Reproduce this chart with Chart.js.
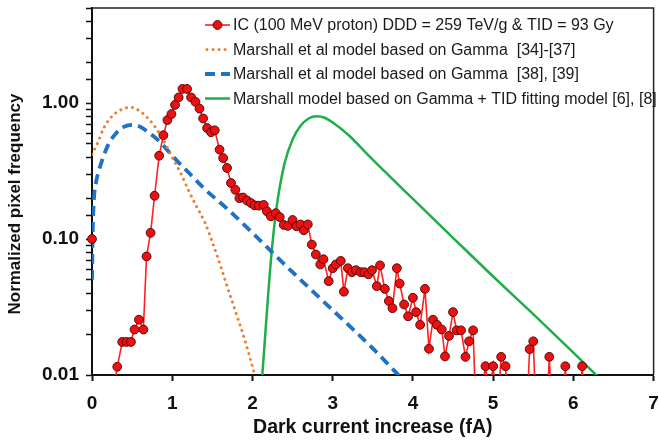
<!DOCTYPE html>
<html>
<head>
<meta charset="utf-8">
<script src="https://cdn.jsdelivr.net/npm/chart.js@4.4.1/dist/chart.umd.min.js"></script>
<style>
    html, body { margin: 0; padding: 0; background: #fff; }
</style>
</head>
<body>
<canvas id="myChart" width="659" height="441"></canvas>
<script>
// measured IC data (100 MeV proton)
const icX = [0, 0.15, 0.26, 0.315, 0.377, 0.431, 0.485, 0.53, 0.585, 0.64, 0.68, 0.73, 0.78, 0.837, 0.89, 0.94, 0.99, 1.035, 1.08, 1.128, 1.185, 1.235, 1.29, 1.34, 1.385, 1.435, 1.484, 1.53, 1.59, 1.635, 1.683, 1.733, 1.787, 1.837, 1.882, 1.932, 1.98, 2.026, 2.08, 2.14, 2.18, 2.23, 2.29, 2.34, 2.39, 2.44, 2.5, 2.55, 2.6, 2.64, 2.69, 2.74, 2.79, 2.845, 2.885, 2.95, 3.0, 3.04, 3.1, 3.14, 3.19, 3.24, 3.29, 3.35, 3.395, 3.445, 3.49, 3.55, 3.59, 3.65, 3.7, 3.745, 3.8, 3.835, 3.89, 3.94, 4.0, 4.04, 4.09, 4.15, 4.2, 4.25, 4.3, 4.36, 4.4, 4.45, 4.5, 4.545, 4.6, 4.655, 4.7, 4.75, 4.8, 4.85, 4.905, 4.95, 5.0, 5.05, 5.1, 5.155, 5.2, 5.3, 5.4, 5.455, 5.5, 5.55, 5.65, 5.7, 5.75, 5.85, 5.9, 5.95, 6.05, 6.11, 6.16]
const icY = [0.10, null, 0.007, 0.0115, 0.0175, 0.0175, 0.0175, 0.0216, 0.0255, 0.0216, 0.0745, 0.111, 0.208, 0.41, 0.58, 0.75, 0.83, 0.97, 1.1, 1.27, 1.27, 1.1, 1.02, 0.91, 0.77, 0.655, 0.61, 0.63, 0.454, 0.394, 0.333, 0.258, 0.23, 0.2, 0.202, 0.192, 0.184, 0.177, 0.176, 0.178, 0.16, 0.147, 0.155, 0.145, 0.127, 0.125, 0.138, 0.124, 0.128, 0.116, 0.128, 0.091, 0.077, 0.065, 0.071, 0.049, 0.061, 0.065, 0.069, 0.041, 0.061, 0.057, 0.059, 0.057, 0.057, 0.055, 0.059, 0.045, 0.064, 0.043, 0.035, 0.031, 0.061, 0.047, 0.033, 0.027, 0.037, 0.029, 0.0234, 0.043, 0.0156, 0.0255, 0.0234, 0.0216, 0.0137, 0.0194, 0.029, 0.0213, 0.0213, 0.0136, 0.0177, 0.0213, 0.003, 0.007, 0.0116, 0.007, 0.0116, 0.005, 0.0136, 0.0116, 0.003, 0.002, 0.003, 0.0155, 0.0177, 0.003, 0.003, 0.0136, 0.003, 0.003, 0.0116, 0.003, 0.003, 0.0116, 0.003]

// Marshall et al, Gamma [34]-[37]
const orangeX = [0, 0.07, 0.15, 0.25, 0.36, 0.48, 0.6, 0.7, 0.8, 0.9, 1.0, 1.1, 1.2, 1.3, 1.4, 1.5, 1.6, 1.7, 1.8, 1.9, 2.0, 2.05]
const orangeY = [0.42, 0.51, 0.66, 0.8, 0.89, 0.93, 0.87, 0.77, 0.65, 0.52, 0.40, 0.31, 0.23, 0.175, 0.135, 0.095, 0.064, 0.042, 0.028, 0.0185, 0.0115, 0.009]

// Marshall et al, Gamma [38], [39]
const blueX = [0, 0.01, 0.025, 0.05, 0.1, 0.2, 0.3, 0.4, 0.5, 0.6, 0.7, 0.8, 0.9, 1.0, 1.2, 1.4, 1.7, 2.0, 2.5, 3.0, 3.5, 3.82, 3.9]
const blueY = [0.05, 0.12, 0.2, 0.26, 0.34, 0.49, 0.6, 0.67, 0.69, 0.67, 0.61, 0.55, 0.48, 0.41, 0.31, 0.235, 0.164, 0.111, 0.057, 0.030, 0.0157, 0.01, 0.009]

// Marshall + TID fitting model
const greenX = [2.12, 2.16, 2.2, 2.24, 2.3, 2.4, 2.5, 2.6, 2.7, 2.8, 2.9, 3.0, 3.2, 3.4, 3.6, 3.8, 4.0, 4.5, 5.0, 5.5, 6.0, 6.3]
const greenY = [0.0095, 0.02, 0.042, 0.081, 0.17, 0.36, 0.54, 0.68, 0.77, 0.80, 0.78, 0.72, 0.58, 0.44, 0.335, 0.257, 0.197, 0.102, 0.053, 0.028, 0.0146, 0.0098]

const seriesLabels = [
    'IC (100 MeV proton) DDD = 259 TeV/g & TID = 93 Gy',
    'Marshall et al model based on Gamma  [34]-[37]',
    'Marshall et al model based on Gamma  [38], [39]',
    'Marshall model based on Gamma + TID fitting model [6], [8]'
]
const xTickValues = [0, 1, 2, 3, 4, 5, 6, 7]
const yTickLabels = ['0.01', '0.10', '1.00']

const FONT = '"Liberation Sans", Arial, sans-serif'
Chart.defaults.font.family = FONT
Chart.defaults.color = '#111'

const toPoints = (xs, ys) => xs.map((x, i) => ({x: x, y: ys[i]}))

const frameAndLegend = {
    id: 'frameAndLegend',
    afterDatasetsDraw(chart) {
        const {ctx, chartArea} = chart
        ctx.save()
        ctx.strokeStyle = '#222'
        ctx.lineWidth = 1.5
        ctx.beginPath()
        ctx.moveTo(chartArea.left, chartArea.top)
        ctx.lineTo(chartArea.right, chartArea.top)
        ctx.lineTo(chartArea.right, chartArea.bottom)
        ctx.stroke()
        ctx.restore()
    },
    afterDraw(chart) {
        const ctx = chart.ctx
        ctx.save()
        // legend
        chart.data.datasets.forEach((ds, i) => {
            const y = 25 + i * 24.5
            ctx.save()
            ctx.strokeStyle = ds.borderColor
            ctx.lineWidth = ds.borderWidth
            ctx.lineCap = ds.borderCapStyle || 'butt'
            ctx.setLineDash(ds.borderDash || [])
            ctx.beginPath()
            ctx.moveTo(i === 1 ? 207 : 205, y)
            ctx.lineTo(230, y)
            ctx.stroke()
            ctx.restore()
            if (ds.pointRadius > 0) {
                ctx.beginPath()
                ctx.arc(217.5, y, ds.pointRadius, 0, Math.PI * 2)
                ctx.fillStyle = ds.backgroundColor
                ctx.fill()
                ctx.lineWidth = ds.pointBorderWidth
                ctx.strokeStyle = ds.pointBorderColor
                ctx.stroke()
            }
            ctx.fillStyle = '#1a1a1a'
            ctx.font = '16px ' + FONT
            ctx.textBaseline = 'middle'
            ctx.textAlign = 'left'
            ctx.fillText(ds.label, 233, y + 1)
        })
        // y axis title
        ctx.translate(15, 204)
        ctx.rotate(-Math.PI / 2)
        ctx.font = 'bold 17px ' + FONT
        ctx.fillStyle = '#111'
        ctx.textAlign = 'center'
        ctx.textBaseline = 'middle'
        ctx.fillText('Normalized pixel frequency', 0, 0)
        ctx.restore()
    }
}

window.addEventListener('DOMContentLoaded', function () {
    const canvas = document.querySelector('#myChart')

    new Chart(canvas, {
        type: 'line',
        data: {
            datasets: [
                {
                    label: seriesLabels[0],
                    data: toPoints(icX, icY),
                    borderColor: '#ff2020',
                    borderWidth: 1.6,
                    backgroundColor: '#ee1010',
                    pointRadius: 4.4,
                    pointHoverRadius: 4.4,
                    pointBorderColor: '#5a0808',
                    pointBorderWidth: 1,
                    spanGaps: false,
                    tension: 0,
                    clip: {left: 8, top: 0, right: 0, bottom: 0}
                },
                {
                    label: seriesLabels[1],
                    data: toPoints(orangeX, orangeY),
                    borderColor: '#ed7d31',
                    borderWidth: 3,
                    borderDash: [0.01, 6],
                    borderCapStyle: 'round',
                    pointRadius: 0,
                    cubicInterpolationMode: 'monotone',
                    clip: 0
                },
                {
                    label: seriesLabels[2],
                    data: toPoints(blueX, blueY),
                    borderColor: '#1f72c4',
                    borderWidth: 3.8,
                    borderDash: [10, 6],
                    pointRadius: 0,
                    cubicInterpolationMode: 'monotone',
                    clip: 0
                },
                {
                    label: seriesLabels[3],
                    data: toPoints(greenX, greenY),
                    borderColor: '#1fae48',
                    borderWidth: 2.5,
                    pointRadius: 0,
                    cubicInterpolationMode: 'monotone',
                    clip: 0
                }
            ]
        },
        options: {
            responsive: false,
            animation: false,
            devicePixelRatio: 1,
            layout: { padding: {top: 8, right: 3, left: 0, bottom: 0} },
            plugins: {
                legend: { display: false },
                tooltip: { enabled: false }
            },
            scales: {
                x: {
                    type: 'linear',
                    min: 0,
                    max: 7,
                    afterBuildTicks: scale => { scale.ticks = xTickValues.map(v => ({value: v})) },
                    ticks: {
                        font: {size: 19, weight: 'bold'},
                        color: '#111',
                        padding: 11,
                        maxRotation: 0
                    },
                    grid: { drawOnChartArea: false, tickLength: 6, tickWidth: 2, color: '#111' },
                    border: { display: true, color: '#111', width: 2 },
                    title: {
                        display: true,
                        text: 'Dark current increase (fA)',
                        font: {size: 19.5, weight: 'bold'},
                        color: '#111',
                        padding: {top: 2, bottom: 2}
                    },
                    afterFit: scale => {
                        scale.height = 66
                        scale.paddingLeft = 0
                        scale.paddingRight = 0
                    }
                },
                y: {
                    type: 'logarithmic',
                    min: 0.01,
                    max: 5,
                    ticks: {
                        autoSkip: false,
                        font: {size: 19, weight: 'bold'},
                        color: '#111',
                        padding: 7,
                        callback: function (value) {
                            const e = Math.log10(value)
                            if (Math.abs(e - Math.round(e)) < 1e-6) {
                                const idx = Math.round(e) + 2
                                return yTickLabels[idx] !== undefined ? yTickLabels[idx] : ''
                            }
                            return ''
                        }
                    },
                    grid: { drawOnChartArea: false, tickLength: 6, tickWidth: 1.5, color: '#111' },
                    border: { display: true, color: '#111', width: 2 },
                    afterFit: scale => {
                        scale.width = 92
                        scale.paddingTop = 0
                        scale.paddingBottom = 0
                    }
                }
            }
        },
        plugins: [frameAndLegend]
    })
})
</script>
</body>
</html>
